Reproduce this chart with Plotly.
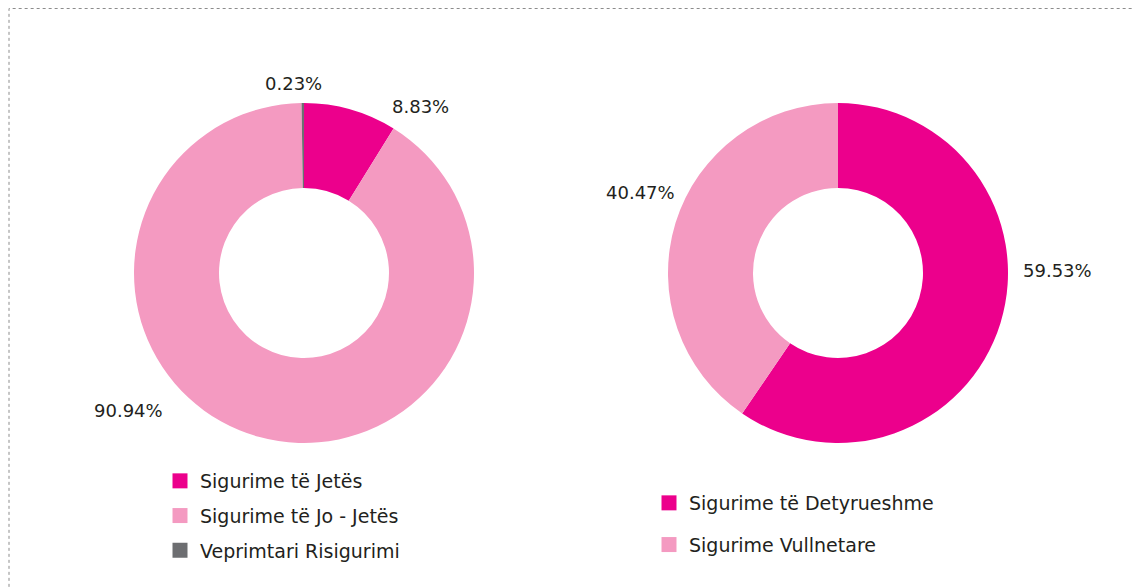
import plotly.graph_objects as go

# left donut: structure of gross written premiums
labels_left = ['Sigurime të Jetës', 'Sigurime të Jo - Jetës', 'Veprimtari Risigurimi']
values_left = [8.83, 90.94, 0.23]
colors_left = ['#EC008C', '#F49AC1', '#6D6E71']

# right donut: non-life split
labels_right = ['Sigurime të Detyrueshme', 'Sigurime Vullnetare']
values_right = [59.53, 40.47]
colors_right = ['#EC008C', '#F49AC1']

FONT = 'DejaVu Sans'
OFF = 8                       # page body margin
W, H = 1140 - OFF, 587 - OFF


def px_x(x):
    return (x - OFF) / W


def px_y(y):
    return 1 - (y - OFF) / H


fig = go.Figure()

fig.add_trace(go.Pie(
    labels=labels_left,
    values=values_left,
    marker=dict(colors=colors_left, line=dict(width=0)),
    hole=0.5,
    sort=False,
    direction='clockwise',
    rotation=0,
    textinfo='none',
    hoverinfo='label+percent',
    domain=dict(x=[px_x(134), px_x(474)], y=[px_y(443), px_y(103)]),
    showlegend=False,
))

fig.add_trace(go.Pie(
    labels=labels_right,
    values=values_right,
    marker=dict(colors=colors_right, line=dict(width=0)),
    hole=0.5,
    sort=False,
    direction='clockwise',
    rotation=0,
    textinfo='none',
    hoverinfo='label+percent',
    domain=dict(x=[px_x(668), px_x(1008)], y=[px_y(443), px_y(103)]),
    showlegend=False,
))

# legend entries (square swatches), one group per slice so the rows can be spaced
for labels, colors, leg in ((labels_left, colors_left, 'legend'),
                            (labels_right, colors_right, 'legend2')):
    for lab, col in zip(labels, colors):
        fig.add_trace(go.Scatter(
            x=[None], y=[None], mode='markers', name=lab,
            marker=dict(symbol='square', size=15, color=col),
            legendgroup=lab, legend=leg, hoverinfo='skip',
        ))

# percentage labels, placed roughly where the original puts them
label_pos_left = [(420, 107), (128, 410), (293, 84)]
label_pos_right = [(1057, 270), (640, 193)]
for vals, pos in ((values_left, label_pos_left), (values_right, label_pos_right)):
    for v, (x, y) in zip(vals, pos):
        fig.add_annotation(
            x=px_x(x), y=px_y(y), xref='paper', yref='paper',
            text=f'{v:.2f}%', showarrow=False,
            xanchor='center', yanchor='middle',
            font=dict(family=FONT, size=18, color='#231F20'),
        )

# dotted frame around the chart area
fig.add_shape(
    type='rect', xref='paper', yref='paper',
    x0=px_x(9), y0=-0.05, x1=1.05, y1=1 - 0.5 / H,
    line=dict(color='#8C8C8C', width=1, dash='dot'),
)

legend_style = dict(
    font=dict(family=FONT, size=19, color='#231F20'),
    bgcolor='rgba(0,0,0,0)',
    itemclick=False,
    itemdoubleclick=False,
    xanchor='left',
    yanchor='top',
    itemsizing='trace',
)

fig.update_layout(
    width=W,
    height=H,
    paper_bgcolor='white',
    plot_bgcolor='white',
    margin=dict(l=0, r=0, t=0, b=0),
    font=dict(family=FONT, size=18, color='#231F20'),
    xaxis=dict(visible=False),
    yaxis=dict(visible=False),
    legend=dict(x=px_x(160), y=px_y(462), tracegroupgap=7, **legend_style),
    legend2=dict(x=px_x(649), y=px_y(484), tracegroupgap=14, **legend_style),
)

fig.write_html('out.html')
